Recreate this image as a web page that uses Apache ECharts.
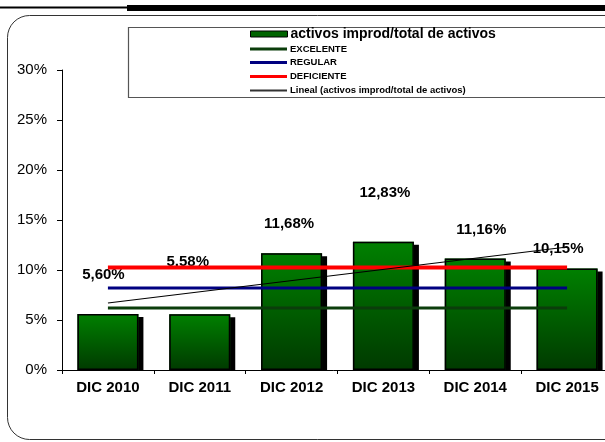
<!DOCTYPE html>
<html>
<head>
<meta charset="utf-8">
<script src="https://cdn.jsdelivr.net/npm/echarts@6/dist/echarts.min.js"></script>
<style>
html,body{margin:0;padding:0;background:#fff;}
#chart{width:605px;height:442px;}
</style>
</head>
<body>
<div id="chart"></div>
<script>
const categories = ['DIC 2010', 'DIC 2011', 'DIC 2012', 'DIC 2013', 'DIC 2014', 'DIC 2015'];
const ratioValues = [5.60, 5.58, 11.68, 12.83, 11.16, 10.15];
const excelenteValues = [6.2, 6.2, 6.2, 6.2, 6.2, 6.2];
const regularValues = [8.2, 8.2, 8.2, 8.2, 8.2, 8.2];
const deficienteValues = [10.25, 10.25, 10.25, 10.25, 10.25, 10.25];
const trendValues = [6.7, null, null, null, null, 12.3];
const yTicks = [0, 5, 10, 15, 20, 25, 30];

// label placement (style only): [dx, dy] relative to bar top
const labelOffsets = [[-4.5, -32], [-12, -45], [-2.5, -22], [1.5, -41], [6, -21], [-9, -12.5]];

const FONT = 'Liberation Sans, Arial, sans-serif';
const chart = echarts.init(document.getElementById('chart'), null, {renderer: 'canvas'});

const barData = ratioValues.map((v, i) => ({
  value: v,
  label: {offset: labelOffsets[i]}
}));

const legendRows = [
  {name: 'activos improd/total de activos', top: 27, size: 14, iconH: 6, color: '#006400', border: '#000'},
  {name: 'EXCELENTE', top: 43, size: 9.5, iconH: 3, color: '#0B3D0B'},
  {name: 'REGULAR', top: 56.5, size: 9.5, iconH: 3, color: '#000080'},
  {name: 'DEFICIENTE', top: 70.5, size: 9.5, iconH: 3, color: '#FF0000'},
  {name: 'Lineal (activos improd/total de activos)', top: 84.5, size: 9.5, iconH: 2, color: '#333'}
];

const legends = legendRows.map(r => ({
  left: 250,
  top: r.top,
  orient: 'vertical',
  padding: 0,
  itemWidth: 37,
  itemHeight: r.iconH,
  icon: 'rect',
  selectedMode: false,
  data: [{
    name: r.name,
    itemStyle: {color: r.color, borderColor: r.border || r.color, borderWidth: r.border ? 1 : 0},
    lineStyle: {opacity: 0}
  }],
  textStyle: {fontFamily: FONT, fontWeight: 'bold', fontSize: r.size, color: '#000', lineHeight: 12, padding: [0, 0, 0, -2]}
}));

const gradient = new echarts.graphic.LinearGradient(0, 0, 0, 1, [
  {offset: 0, color: '#008000'},
  {offset: 1, color: '#003A00'}
]);

const option = {
  animation: false,
  backgroundColor: '#fff',
  grid: {left: 62, width: 551, top: 70, bottom: 72, containLabel: false, outerBoundsMode: 'none'},
  legend: legends,
  graphic: [
    {type: 'line', shape: {x1: 0, y1: 7.5, x2: 128, y2: 7.5}, style: {stroke: '#000', lineWidth: 2}},
    {type: 'rect', shape: {x: 127, y: 5, width: 490, height: 6}, style: {fill: '#000'}},
    {type: 'rect', shape: {x: 7.5, y: 15.5, width: 700, height: 424, r: 22}, style: {fill: 'none', stroke: '#333', lineWidth: 1}, z: -1},
    {type: 'rect', shape: {x: 128.5, y: 27.5, width: 500, height: 70}, style: {fill: '#fff', stroke: '#555', lineWidth: 1.2}, z: -1},
    {type: 'rect', shape: {x: 63, y: 370.5, width: 560, height: 4}, style: {fill: '#fff'}, z: 5}
  ],
  xAxis: {
    type: 'category',
    data: categories,
    boundaryGap: true,
    z: 10,
    axisLine: {lineStyle: {color: '#000', width: 1}},
    axisTick: {show: true, length: 4, lineStyle: {color: '#000'}},
    axisLabel: {fontFamily: FONT, fontWeight: 'bold', fontSize: 15, color: '#000', margin: 10, hideOverlap: false},
    splitLine: {show: false}
  },
  yAxis: {
    type: 'value',
    min: 0,
    max: 30,
    interval: 5,
    z: 10,
    axisLine: {show: true, lineStyle: {color: '#000', width: 1}},
    axisTick: {show: true, length: 5, lineStyle: {color: '#000'}},
    axisLabel: {
      fontFamily: FONT, fontSize: 15, color: '#000', margin: 15,
      formatter: v => yTicks.includes(v) ? v + '%' : ''
    },
    splitLine: {show: false}
  },
  series: [
    {
      name: 'activos improd/total de activos',
      type: 'bar',
      barWidth: 61,
      barGap: '-100%',
      data: barData,
      z: 2,
      itemStyle: {
        color: gradient,
        borderWidth: 0,
        shadowColor: '#000',
        shadowBlur: 0,
        shadowOffsetX: 5,
        shadowOffsetY: 3
      },
      label: {
        show: true,
        position: 'top',
        distance: 0,
        fontFamily: FONT,
        fontWeight: 'bold',
        fontSize: 15,
        color: '#000',
        formatter: p => p.value.toFixed(2).replace('.', ',') + '%'
      }
    },
    {
      name: 'barOutline',
      type: 'bar',
      barWidth: 61,
      barGap: '-100%',
      data: ratioValues,
      z: 2,
      silent: true,
      itemStyle: {color: 'rgba(0,0,0,0)', borderColor: '#000', borderWidth: 1.5}
    },
    {
      name: 'EXCELENTE', type: 'line', data: excelenteValues, symbol: 'none', z: 3,
      lineStyle: {color: '#0B3D0B', width: 3}, itemStyle: {color: '#0B3D0B'}
    },
    {
      name: 'REGULAR', type: 'line', data: regularValues, symbol: 'none', z: 3,
      lineStyle: {color: '#000080', width: 3}, itemStyle: {color: '#000080'}
    },
    {
      name: 'DEFICIENTE', type: 'line', data: deficienteValues, symbol: 'none', z: 3,
      lineStyle: {color: '#FF0000', width: 4}, itemStyle: {color: '#FF0000'}
    },
    {
      name: 'Lineal (activos improd/total de activos)', type: 'line', data: trendValues,
      connectNulls: true, symbol: 'none', z: 4,
      lineStyle: {color: '#000', width: 1.2}, itemStyle: {color: '#333'}
    }
  ]
};
chart.setOption(option);
</script>
</body>
</html>
